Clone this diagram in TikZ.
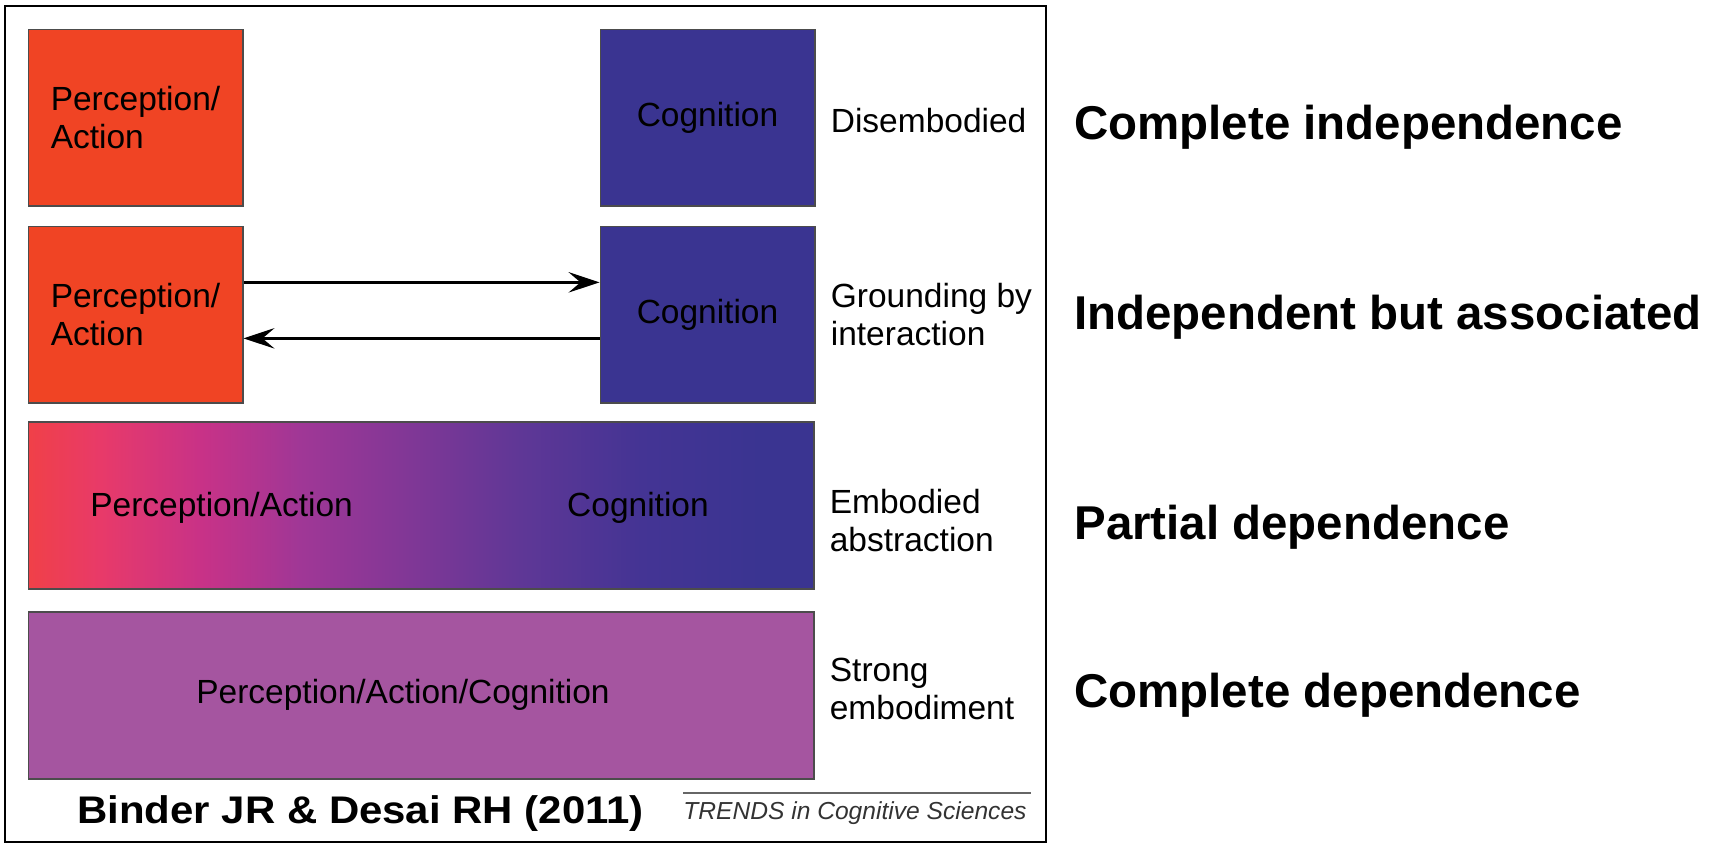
\documentclass[tikz,border=0pt]{standalone}
\usepackage{fontspec}
\setmainfont{Liberation Sans}
\newfontfamily\widebold[FakeStretch=1.09]{Liberation Sans Bold}
\usepackage{tikz}
\usetikzlibrary{arrows.meta,positioning}

\definecolor{paRed}{RGB}{240,68,36}
\definecolor{cogBlue}{RGB}{58,52,145}
\definecolor{fullPurple}{RGB}{165,85,160}
\definecolor{gradA}{RGB}{240,64,72}
\definecolor{gradB}{RGB}{232,58,105}
\definecolor{gradC}{RGB}{200,50,135}
\definecolor{gradD}{RGB}{160,55,150}
\definecolor{gradE}{RGB}{125,55,150}
\definecolor{gradF}{RGB}{95,55,150}
\definecolor{gradG}{RGB}{68,52,148}

\pgfdeclarehorizontalshading{embodied}{100bp}{color(0bp)=(gradA); color(25bp)=(gradA); color(29.6bp)=(gradB); color(36bp)=(gradC); color(42.3bp)=(gradD); color(50bp)=(gradE); color(56.3bp)=(gradF); color(64bp)=(gradG); color(71.6bp)=(cogBlue); color(100bp)=(cogBlue)}

\newcommand{\boxfont}{\fontsize{19.06}{21.6}\selectfont}
\newcommand{\tagfont}{\fontsize{27}{32}\selectfont\bfseries}

\begin{document}
\begin{tikzpicture}[
  x=0.2mm, y=-0.2mm,
  block/.style={rectangle, draw=black!70, line width=0.3mm, minimum width=42.9mm, minimum height=35.3mm, align=left, inner sep=0pt, font=\boxfont},
  wide/.style={block, minimum width=157.1mm, minimum height=33.4mm},
  boxtext/.style={inner sep=0pt, font=\boxfont},
  lbl/.style={inner sep=0pt, align=left, font=\boxfont},
  tag/.style={inner sep=0pt, anchor=west, font=\tagfont},
  arrow/.style={-{Stealth[length=6.2mm, width=4.1mm, inset=2.4mm]}, line width=0.5mm},
]
\useasboundingbox (0,0) rectangle (1727,845);

% outer frame
\draw[line width=0.5mm] (5,6) rectangle (1046,842);

% disembodied
\node[block, fill=paRed, anchor=north west] (pa1) at (27.5,28.6) {Perception/\\Action};
\node[block, fill=cogBlue, right=71.2mm of pa1] (cog1) {Cognition};
\node[lbl, right=3mm of cog1, yshift=-0.6mm] (dis) {Disembodied};

% grounding by interaction
\node[block, fill=paRed, below=3.8mm of pa1] (pa2) {Perception/\\Action};
\node[block, fill=cogBlue, below=3.8mm of cog1] (cog2) {Cognition};
\node[lbl, right=3mm of cog2] (ground) {Grounding by\\interaction};
\draw[arrow] ([yshift=6.45mm]pa2.east) -- ([yshift=6.45mm]cog2.west);
\draw[arrow] ([yshift=-4.75mm]cog2.west) -- ([yshift=-4.75mm]pa2.east);

% embodied abstraction
\node[wide, shading=embodied, below=3.5mm of pa2.south west, anchor=north west] (grad) {};
\node[boxtext, anchor=west] (gradpa) at (90,508) {Perception/Action};
\node[boxtext] (gradcog) at (638,508) {Cognition};
\node[lbl, right=3mm of grad, yshift=-3mm] (embab) {Embodied\\abstraction};

% strong embodiment
\node[wide, fill=fullPurple, below=4.3mm of grad.south west, anchor=north west] (strong) {};
\node[boxtext] (strongpa) at (403,695) {Perception/Action/Cognition};
\node[lbl, right=3mm of strong, yshift=1.2mm] (stremb) {Strong\\embodiment};

% source line
\node[inner sep=0pt, anchor=west, font={\widebold\fontsize{21.9}{26}\selectfont}] (cite) at (77,814) {Binder JR \& Desai RH (2011)};
\node[inner sep=0pt, anchor=west, text=black!80, font={\itshape\fontsize{14}{17}\selectfont}] (trends) at (683,813) {TRENDS in Cognitive Sciences};
\draw[black!60, line width=0.4mm] ([yshift=1.6mm]trends.north west) -- ([yshift=1.6mm,xshift=0.8mm]trends.north east);

% dependence labels
\node[tag] (compind) at (1074,127) {Complete independence};
\node[tag] (indass) at (1074,317) {Independent but associated};
\node[tag] (partdep) at (1074,527) {Partial dependence};
\node[tag] (compdep) at (1074,695) {Complete dependence};

\end{tikzpicture}
\end{document}
